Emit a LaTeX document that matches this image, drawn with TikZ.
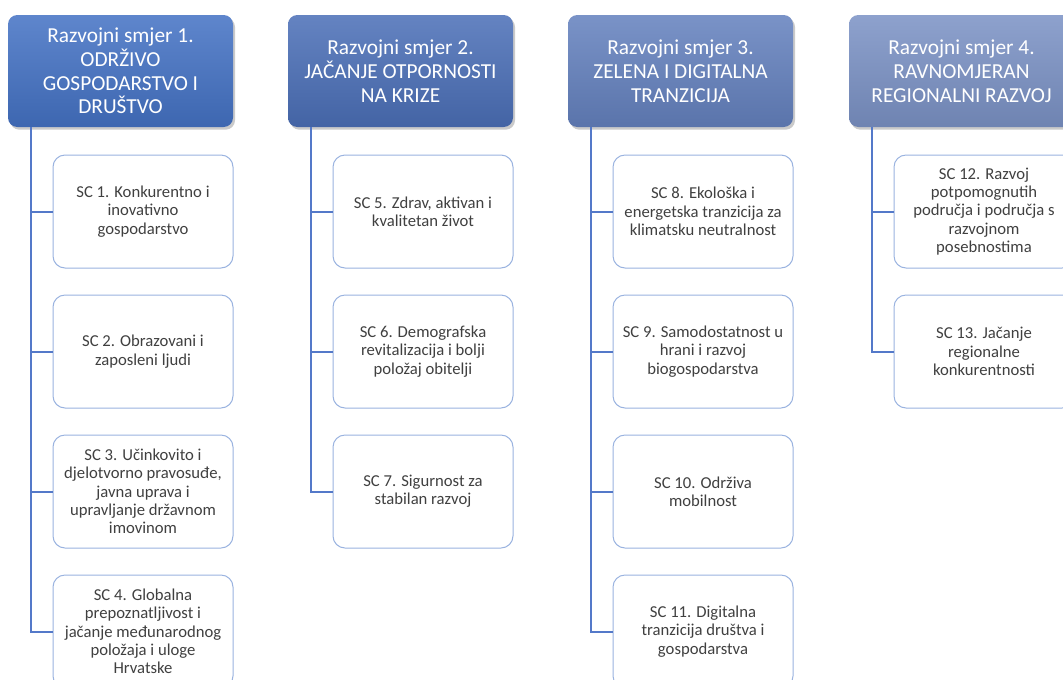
\documentclass[tikz,border=0pt]{standalone}
\usepackage{fontspec}
\setmainfont{Carlito}
\usetikzlibrary{shadows}

\definecolor{smjerA}{HTML}{4472C4}
\definecolor{smjerB}{HTML}{4B6FB7}
\definecolor{smjerC}{HTML}{6481BE}
\definecolor{smjerD}{HTML}{7B92C5}
\definecolor{linija}{HTML}{5479C9}
\definecolor{okvir}{HTML}{9AB3E0}

\tikzset{
  smjer/.style={rounded corners=7pt, minimum width=168.75pt, minimum height=84pt,
    align=center, text=white, font=\fontsize{16}{17.8}\selectfont,
    top color=#1!86!white, middle color=#1, bottom color=#1!90!black,
    drop shadow={shadow xshift=1.5pt, shadow yshift=-2pt, opacity=0.35, fill=black!60}},
  cilj/.style={draw=okvir, line width=0.75pt, fill=white, rounded corners=9pt,
    minimum width=135pt, minimum height=84.75pt, align=center, text=black!75,
    font=\fontsize{12.5}{13.7}\selectfont},
  veza/.style={draw=linija, line width=1.5pt}
}

\begin{document}
\begin{tikzpicture}[x=0.75pt, y=-0.75pt]
  \useasboundingbox (0,0) rectangle (1063,679);
  \clip (0,0) rectangle (1063,679);

  % razvojni smjerovi
  \node[smjer=smjerA] (d1) at (120.5,71) {Razvojni smjer 1.\\ODRŽIVO\\GOSPODARSTVO I\\DRUŠTVO};
  \node[smjer=smjerB] (d2) at (400.5,71) {Razvojni smjer 2.\\JAČANJE OTPORNOSTI\\NA KRIZE};
  \node[smjer=smjerC] (d3) at (680.5,71) {Razvojni smjer 3.\\ZELENA I DIGITALNA\\TRANZICIJA};
  \node[smjer=smjerD] (d4) at (961.5,71) {Razvojni smjer 4.\\RAVNOMJERAN\\REGIONALNI RAZVOJ};

  % strateški ciljevi
  \node[cilj] (sc1) at (143,211.5) {SC 1. Konkurentno i\\inovativno\\gospodarstvo};
  \node[cilj] (sc2) at (143,351.5) {SC 2. Obrazovani i\\zaposleni ljudi};
  \node[cilj] (sc3) at (143,491.5) {SC 3. Učinkovito i\\djelotvorno pravosuđe,\\javna uprava i\\upravljanje državnom\\imovinom};
  \node[cilj] (sc4) at (143,631.5) {SC 4. Globalna\\prepoznatljivost i\\jačanje međunarodnog\\položaja i uloge\\Hrvatske};

  \node[cilj] (sc5) at (423,211.5) {SC 5. Zdrav, aktivan i\\kvalitetan život};
  \node[cilj] (sc6) at (423,351.5) {SC 6. Demografska\\revitalizacija i bolji\\položaj obitelji};
  \node[cilj] (sc7) at (423,491.5) {SC 7. Sigurnost za\\stabilan razvoj};

  \node[cilj] (sc8) at (703,211.5) {SC 8. Ekološka i\\energetska tranzicija za\\klimatsku neutralnost};
  \node[cilj] (sc9) at (703,351.5) {SC 9. Samodostatnost u\\hrani i razvoj\\biogospodarstva};
  \node[cilj] (sc10) at (703,491.5) {SC 10. Održiva\\mobilnost};
  \node[cilj] (sc11) at (703,631.5) {SC 11. Digitalna\\tranzicija društva i\\gospodarstva};

  \node[cilj] (sc12) at (984,211.5) {SC 12. Razvoj\\potpomognutih\\područja i područja s\\razvojnom\\posebnostima};
  \node[cilj] (sc13) at (984,351.5) {SC 13. Jačanje\\regionalne\\konkurentnosti};

  \foreach \source/\dest in {
    d1/sc1, d1/sc2, d1/sc3, d1/sc4,
    d2/sc5, d2/sc6, d2/sc7,
    d3/sc8, d3/sc9, d3/sc10, d3/sc11,
    d4/sc12, d4/sc13}
    \draw[veza] ([xshift=17.25pt]\source.south west) |- (\dest.west);
\end{tikzpicture}
\end{document}
